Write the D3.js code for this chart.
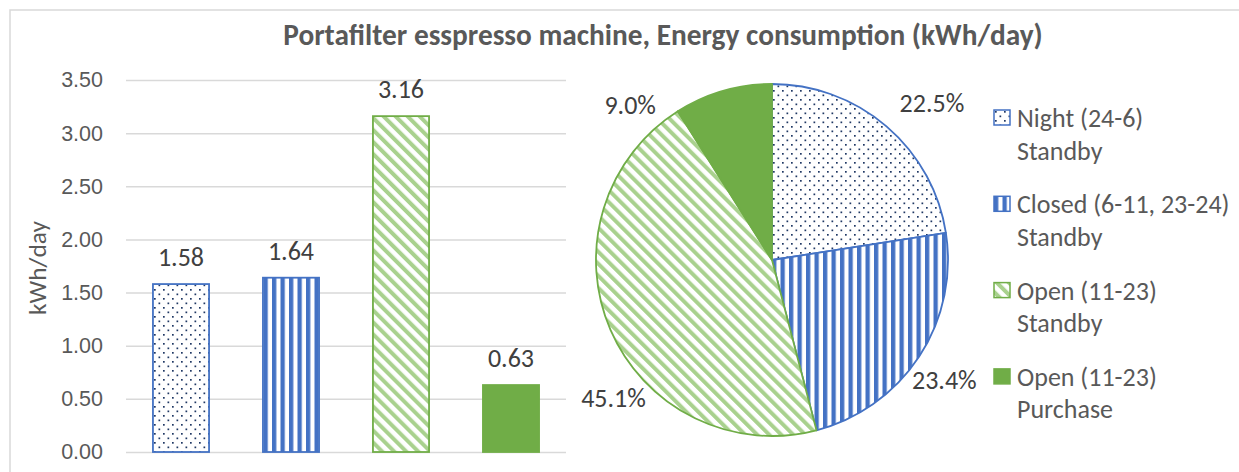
<!DOCTYPE html>
<html>
<head>
<meta charset="utf-8">
<script src="https://cdn.jsdelivr.net/npm/d3@7"></script>
<style>
  body { margin: 0; background: #fff; }
  svg { display: block; font-family: Carlito, Lato, "Open Sans", sans-serif; }
</style>
</head>
<body>
<div id="chart"></div>
<script>
// data
var categories = ["Night (24-6) Standby", "Closed (6-11, 23-24) Standby", "Open (11-23) Standby", "Open (11-23) Purchase"]
var legendLines = [["Night (24-6)", "Standby"], ["Closed (6-11, 23-24)", "Standby"], ["Open (11-23)", "Standby"], ["Open (11-23)", "Purchase"]]
var kwh = [1.58, 1.64, 3.16, 0.63]
var yTicks = [0, 0.5, 1, 1.5, 2, 2.5, 3, 3.5]
var title = "Portafilter esspresso machine, Energy consumption (kWh/day)"
var yLabel = "kWh/day"

var W = 1239, H = 472
var fills = ["url(#dots)", "url(#vert)", "url(#diag)", "#70ad47"]
var strokes = ["#4472c4", "#4472c4", "#70ad47", "#70ad47"]

var svg = d3.select("#chart").append("svg")
    .attr("width", W)
    .attr("height", H)

// patterns
var defs = svg.append("defs")
var p1 = defs.append("pattern").attr("id", "dots")
    .attr("patternUnits", "userSpaceOnUse").attr("width", 9).attr("height", 9)
p1.append("rect").attr("width", 9).attr("height", 9).attr("fill", "#fff")
p1.append("rect").attr("x", 1).attr("y", 1).attr("width", 1.7).attr("height", 1.7).attr("fill", "#1f3864")
p1.append("rect").attr("x", 5.5).attr("y", 5.5).attr("width", 1.7).attr("height", 1.7).attr("fill", "#1f3864")

var p2 = defs.append("pattern").attr("id", "vert")
    .attr("patternUnits", "userSpaceOnUse").attr("width", 8.5).attr("height", 10)
p2.append("rect").attr("width", 8.5).attr("height", 10).attr("fill", "#fff")
p2.append("rect").attr("x", 0).attr("width", 4.3).attr("height", 10).attr("fill", "#4472c4")

var p3 = defs.append("pattern").attr("id", "diag")
    .attr("patternUnits", "userSpaceOnUse").attr("width", 8.5).attr("height", 10)
    .attr("patternTransform", "rotate(-45)")
p3.append("rect").attr("width", 8.5).attr("height", 10).attr("fill", "#fff")
p3.append("rect").attr("x", 0).attr("width", 4).attr("height", 10).attr("fill", "#a9d18e")

// frame
svg.append("rect")
    .attr("x", 10).attr("y", 10)
    .attr("width", W + 10).attr("height", H + 10)
    .attr("fill", "none").attr("stroke", "#d9d9d9").attr("stroke-width", 1.5)

// shrink / grow a text so it covers the same width as in the picture
function fitWidth(sel, target) {
    var n = sel.node()
    var fs = parseFloat(sel.style("font-size"))
    var w = n.getComputedTextLength()
    if (w > 0) sel.style("font-size", (fs * target / w) + "px")
}

var titleText = svg.append("text")
    .attr("x", 663).attr("y", 45)
    .attr("text-anchor", "middle")
    .style("font-size", "28px").style("font-weight", "bold")
    .attr("fill", "#595959")
    .text(title)
fitWidth(titleText, 760)

// ---- bar chart
var barG = svg.append("g")
var x = d3.scaleBand().domain(categories).range([126, 566]).paddingInner(0.49).paddingOuter(0.245)
var y = d3.scaleLinear().domain([0, 3.5]).range([452, 80])

var yAxis = barG.append("g")
    .attr("transform", "translate(126,0)")
    .call(d3.axisLeft(y).tickValues(yTicks).tickFormat(d3.format(".2f")).tickSize(-440).tickPadding(23))
yAxis.select(".domain").remove()
yAxis.selectAll(".tick line").attr("stroke", "#d9d9d9").attr("stroke-width", 1.5)
yAxis.selectAll(".tick text").attr("fill", "#595959").style("font-size", "21.5px").style("font-family", "inherit")

var yl = barG.append("text")
    .attr("transform", "translate(37,268) rotate(-90)")
    .attr("text-anchor", "middle")
    .attr("dy", "0.35em")
    .attr("fill", "#595959")
    .style("font-size", "22px")
    .text(yLabel)
fitWidth(yl, 94)

barG.selectAll("rect.bar")
    .data(kwh)
    .enter()
    .append("rect")
    .attr("class", "bar")
    .attr("x", function (d, i) { return x(categories[i]) })
    .attr("y", function (d) { return y(d) })
    .attr("width", x.bandwidth())
    .attr("height", function (d) { return y(0) - y(d) })
    .attr("fill", function (d, i) { return fills[i] })
    .attr("stroke", function (d, i) { return strokes[i] })
    .attr("stroke-width", 1.8)

barG.selectAll("text.lbl")
    .data(kwh)
    .enter()
    .append("text")
    .attr("class", "lbl")
    .attr("x", function (d, i) { return x(categories[i]) + x.bandwidth() / 2 })
    .attr("y", function (d) { return y(d) - 18 })
    .attr("text-anchor", "middle")
    .attr("fill", "#404040")
    .style("font-size", "26px")
    .text(function (d) { return d.toFixed(2) })

// ---- pie chart
var cx = 772, cy = 260, r = 176
var total = d3.sum(kwh)
var pie = d3.pie().sort(null)
var arcs = pie(kwh)
var arc = d3.arc().innerRadius(0).outerRadius(r)
var pieG = svg.append("g").attr("transform", "translate(" + cx + "," + cy + ")")

pieG.selectAll("path")
    .data(arcs)
    .enter()
    .append("path")
    .attr("d", arc)
    .attr("fill", function (d, i) { return fills[i] })
    .attr("stroke", function (d, i) { return strokes[i] })
    .attr("stroke-width", 1.8)
    .attr("stroke-linejoin", "round")

// best-fit style label placement (nudged like excel does)
var labelShift = [5, 1.6, -17.5, -26.3]
var labelRad = [224, 210, 210, 210]
pieG.selectAll("text")
    .data(arcs)
    .enter()
    .append("text")
    .attr("transform", function (d, i) {
        var a = (d.startAngle + d.endAngle) / 2 + labelShift[i] * Math.PI / 180
        return "translate(" + (labelRad[i] * Math.sin(a)) + "," + (-labelRad[i] * Math.cos(a)) + ")"
    })
    .attr("text-anchor", "middle")
    .attr("dy", "0.35em")
    .attr("fill", "#404040")
    .style("font-size", "26px")
    .text(function (d) { return (d.value / total * 100).toFixed(1) + "%" })

// legend
var legend = svg.append("g").attr("transform", "translate(994,110)")
var item = legend.selectAll("g")
    .data(legendLines)
    .enter()
    .append("g")
    .attr("transform", function (d, i) { return "translate(0," + (i * 86.3) + ")" })
item.append("rect")
    .attr("width", 16).attr("height", 15)
    .attr("fill", function (d, i) { return fills[i] })
    .attr("stroke", function (d, i) { return strokes[i] })
    .attr("stroke-width", 1.5)
item.selectAll("text")
    .data(function (d) { return d })
    .enter()
    .append("text")
    .attr("x", 23)
    .attr("y", function (d, j) { return 17 + j * 32.5 })
    .attr("fill", "#595959")
    .style("font-size", "26px")
    .text(function (d) { return d })
</script>
</body>
</html>
